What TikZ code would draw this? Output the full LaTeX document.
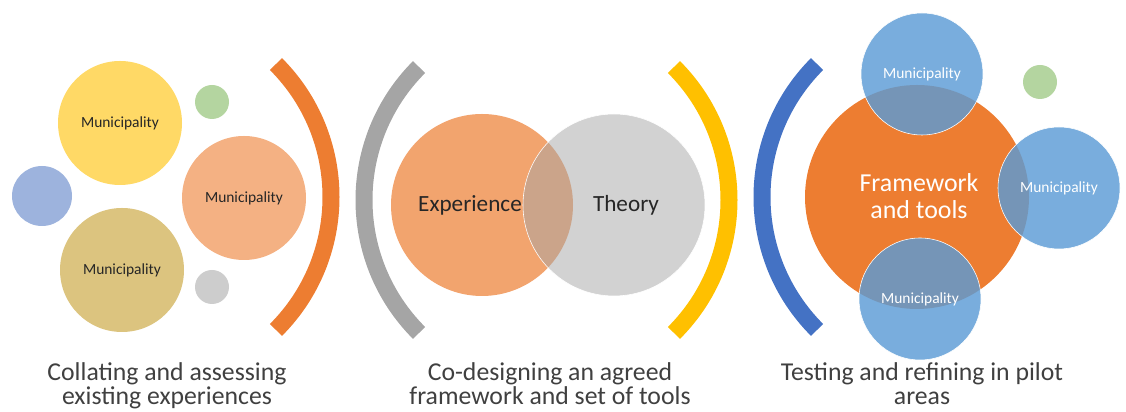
\documentclass[tikz,border=0pt]{standalone}
\usepackage{fontspec}
\setmainfont{Carlito}
\usetikzlibrary{positioning}
\definecolor{ArcOrange}{HTML}{ED7D31}
\definecolor{ArcGrey}{HTML}{A5A5A5}
\definecolor{ArcYellow}{HTML}{FFC000}
\definecolor{ArcBlue}{HTML}{4472C4}
\definecolor{MuniYellow}{HTML}{FFD966}
\definecolor{MuniSalmon}{HTML}{F4B183}
\definecolor{MuniKhaki}{HTML}{DCC47F}
\definecolor{DotBlue}{HTML}{9DB3DD}
\definecolor{DotGreen}{HTML}{B4D5A0}
\definecolor{DotGrey}{HTML}{CDCDCD}
\definecolor{PilotBlue}{HTML}{5B9BD5}
\definecolor{TextDark}{HTML}{262626}
\definecolor{CaptionText}{HTML}{404040}
\newcommand{\px}{0.025cm}

\begin{document}
\begin{tikzpicture}[
    x=\px, y=\px,
    % Circle Styles
    blob/.style={circle, inner sep=0pt, minimum size=#1*\px},
    muni/.style={font=\fontsize{11}{13}\selectfont, TextDark},
    wmuni/.style={font=\fontsize{11}{13}\selectfont, white},
    venn/.style={font=\fontsize{16.5}{19}\selectfont, TextDark},
    caption/.style={font=\fontsize{18.3}{17.5}\selectfont, CaptionText, align=center, anchor=base},
    % Bracket Styles
    bracket/.style={line width=17*\px}
]
    \useasboundingbox (0,0) rectangle (1126,412);

    % ==========================================
    % STAGE 1: Collating
    % ==========================================
    \node[blob=124, fill=MuniYellow] (muniA) at (120,289) {};
    \node[blob=124, fill=MuniSalmon] (muniB) at (244,214) {};
    \node[blob=124, fill=MuniKhaki] (muniC) at (122,142) {};
    \node[blob=34, fill=DotGreen] (dotA) at (212,310) {};
    \node[blob=60, fill=DotBlue] (dotB) at (42,216) {};
    \node[blob=34, fill=DotGrey] (dotC) at (212,125) {};

    \node[muni] (muniAText) at (muniA) {Municipality};
    \node[muni] (muniBText) at (muniB) {Municipality};
    \node[muni] (muniCText) at (muniC) {Municipality};

    \coordinate (arcOne) at (143,215);
    \draw[bracket, ArcOrange] (arcOne) ++(-45:188) arc[start angle=-45, end angle=45, radius=188];

    \node[caption] (capOne) at (167,7) {Collating and assessing\\existing experiences};

    % ==========================================
    % STAGE 2: Co-designing
    % ==========================================
    \coordinate (arcTwo) at (552,212);
    \coordinate (arcThree) at (541,212);
    \draw[bracket, ArcGrey] (arcTwo) ++(135:188) arc[start angle=135, end angle=225, radius=188];
    \draw[bracket, ArcYellow] (arcThree) ++(-45:188) arc[start angle=-45, end angle=45, radius=188];

    \node[blob=182, fill=ArcOrange, fill opacity=0.7] (exp) at (482,207) {};
    \node[blob=182, fill=ArcGrey, fill opacity=0.5, draw=white, thin] (theory) at (614,207) {};

    \node[venn] (expText) at ([xshift=-12*\px]exp.center) {Experience};
    \node[venn] (theoryText) at ([xshift=12*\px]theory.center) {Theory};

    \node[caption] (capTwo) at (550,7) {Co-designing an agreed\\framework and set of tools};

    % ==========================================
    % STAGE 3: Testing in pilots
    % ==========================================
    \coordinate (arcFour) at (950,215);
    \draw[bracket, ArcBlue] (arcFour) ++(135:188) arc[start angle=135, end angle=225, radius=188];

    \node[blob=224, fill=ArcOrange] (frame) at (917,215) {};
    \node[blob=34, fill=DotGreen] (dotD) at (1040,330) {};

    % Municipalities overlapping the framework
    \foreach \name/\pos in {pilotTop/{(922,338)}, pilotRight/{(1059,224)}, pilotBottom/{(920,113)}}
        \node[blob=122, fill=PilotBlue, fill opacity=0.82, draw=white, thin] (\name) at \pos {};

    \node[font=\fontsize{18.4}{19.2}\selectfont, white, align=center] (frameText) at (919,216) {Framework\\and tools};
    \node[wmuni] (pilotTopText) at (pilotTop) {Municipality};
    \node[wmuni] (pilotRightText) at (pilotRight) {Municipality};
    \node[wmuni] (pilotBottomText) at (pilotBottom) {Municipality};

    \node[caption] (capThree) at (922,7) {Testing and refining in pilot\\areas};

\end{tikzpicture}
\end{document}
